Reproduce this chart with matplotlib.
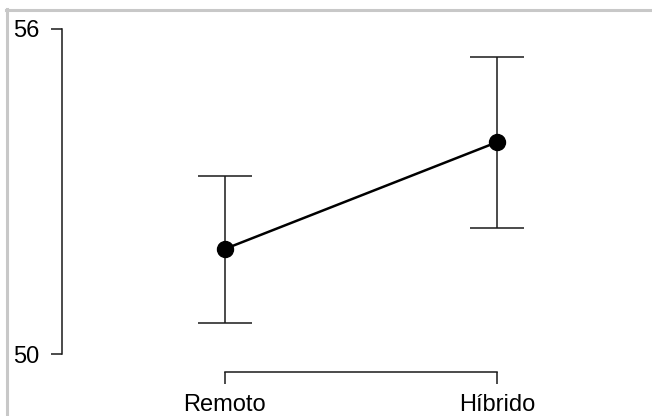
import matplotlib.pyplot as plt
from matplotlib.lines import Line2D

# descriptives: group means with error bars
groups = ["Remoto", "Híbrido"]
means = [51.94, 53.91]
lower = [50.57, 52.33]
upper = [53.29, 55.48]
yticks = [50, 56]

plt.rcParams['font.family'] = ['Liberation Sans', 'DejaVu Sans']

W, H = 652, 416
fig = plt.figure(figsize=(W / 100, H / 100), dpi=100)
fig.patch.set_facecolor('white')

# axes box in pixels: left 62, right 640, top 20, bottom 372
ax = fig.add_axes([62 / W, 1 - 372 / H, (640 - 62) / W, (372 - 20) / H])
ax.set_facecolor('none')

x = list(range(len(groups)))
err = [[m - lo for m, lo in zip(means, lower)], [hi - m for m, hi in zip(means, upper)]]
ax.errorbar(x, means, yerr=err, fmt='none', ecolor='#1a1a1a', elinewidth=1.1,
            capsize=19.5, capthick=1.1, zorder=2)
ax.plot(x, means, color='black', lw=1.8, zorder=3)
ax.plot(x, means, 'o', color='black', ms=11.5, zorder=4)

ax.set_xlim(-0.599, 1.526)
ax.set_ylim(49.668, 56.166)

for s in ['top', 'right']:
    ax.spines[s].set_visible(False)
ax.spines['left'].set_bounds(yticks[0], yticks[-1])
ax.spines['bottom'].set_bounds(0, len(groups) - 1)
for s in ['left', 'bottom']:
    ax.spines[s].set_linewidth(1.1)
    ax.spines[s].set_color('#1a1a1a')

ax.set_yticks(yticks)
ax.set_yticklabels([str(t) for t in yticks])
ax.set_xticks(x)
ax.set_xticklabels(groups)
ax.tick_params(axis='y', direction='out', length=8, width=1.1, pad=8,
               labelsize=17, color='#1a1a1a')
ax.tick_params(axis='x', direction='out', length=8.5, width=1.1, pad=7,
               labelsize=17, color='#1a1a1a')

# grey frame of the screenshot (left and top)
fig.add_artist(Line2D([7 / W, 7 / W], [0, 1 - 9 / H], transform=fig.transFigure,
                      color='#c8c8c8', lw=2.2))
fig.add_artist(Line2D([6 / W, 1], [1 - 9.5 / H, 1 - 9.5 / H], transform=fig.transFigure,
                      color='#c8c8c8', lw=2.2))

fig.savefig('out.png', dpi=100)
